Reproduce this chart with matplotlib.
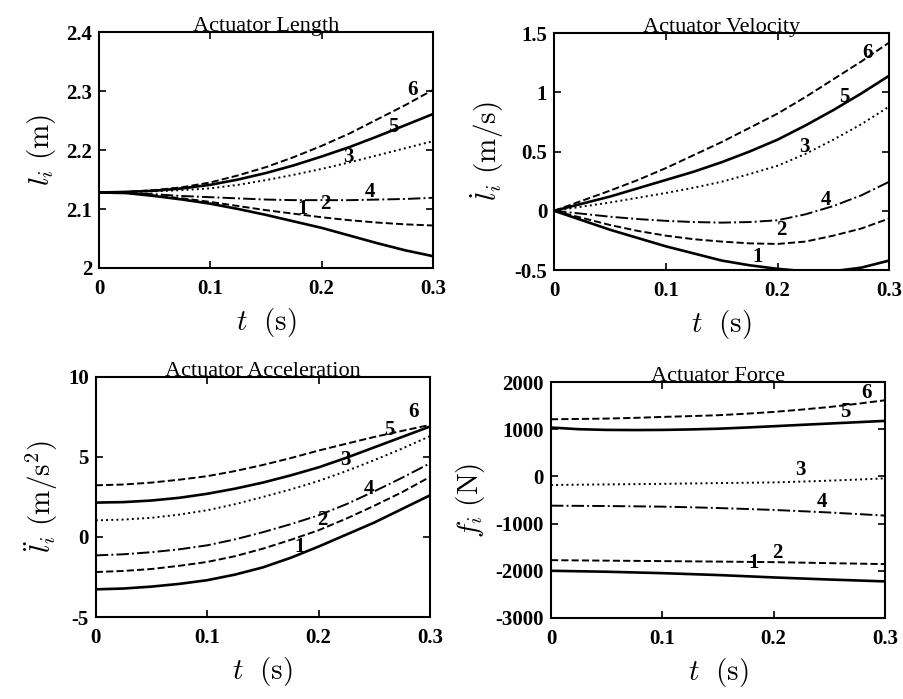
import matplotlib
matplotlib.use("Agg")
import matplotlib.pyplot as plt
import numpy as np

plt.rcParams["font.family"] = ["Liberation Serif", "DejaVu Serif"]
plt.rcParams["mathtext.fontset"] = "cm"

t = [0, 0.025, 0.05, 0.075, 0.1, 0.125, 0.15, 0.175, 0.2, 0.225, 0.25, 0.275, 0.3]

# actuator length (m), legs 1..6
length_1 = [2.128, 2.127, 2.122, 2.116, 2.109, 2.100, 2.090, 2.079, 2.068, 2.055, 2.042, 2.030, 2.020]
length_2 = [2.128, 2.127, 2.123, 2.118, 2.112, 2.105, 2.098, 2.092, 2.086, 2.081, 2.077, 2.074, 2.072]
length_3 = [2.128, 2.129, 2.130, 2.132, 2.135, 2.141, 2.149, 2.158, 2.168, 2.179, 2.191, 2.203, 2.215]
length_4 = [2.128, 2.127, 2.125, 2.122, 2.120, 2.118, 2.116, 2.115, 2.115, 2.115, 2.116, 2.117, 2.119]
length_5 = [2.128, 2.129, 2.131, 2.135, 2.141, 2.150, 2.161, 2.174, 2.189, 2.205, 2.223, 2.242, 2.261]
length_6 = [2.128, 2.129, 2.132, 2.137, 2.145, 2.157, 2.171, 2.188, 2.207, 2.228, 2.252, 2.276, 2.302]

# actuator velocity (m/s)
vel_1 = [0, -0.08, -0.16, -0.23, -0.30, -0.36, -0.42, -0.46, -0.49, -0.51, -0.51, -0.48, -0.42]
vel_2 = [0, -0.06, -0.12, -0.17, -0.21, -0.24, -0.26, -0.275, -0.28, -0.26, -0.21, -0.15, -0.065]
vel_3 = [0, 0.035, 0.07, 0.11, 0.15, 0.195, 0.245, 0.31, 0.38, 0.48, 0.60, 0.73, 0.88]
vel_4 = [0, -0.025, -0.05, -0.07, -0.085, -0.095, -0.10, -0.095, -0.08, -0.03, 0.04, 0.13, 0.245]
vel_5 = [0, 0.06, 0.12, 0.19, 0.26, 0.33, 0.41, 0.50, 0.60, 0.72, 0.85, 0.99, 1.14]
vel_6 = [0, 0.085, 0.17, 0.26, 0.36, 0.47, 0.58, 0.70, 0.82, 0.96, 1.11, 1.26, 1.42]

# actuator acceleration (m/s^2)
acc_1 = [-3.27, -3.22, -3.1, -2.93, -2.7, -2.35, -1.9, -1.3, -0.6, 0.15, 0.9, 1.75, 2.6]
acc_2 = [-2.19, -2.12, -2.0, -1.8, -1.56, -1.2, -0.73, -0.18, 0.42, 1.15, 1.95, 2.8, 3.75]
acc_3 = [1.04, 1.09, 1.2, 1.4, 1.67, 2.05, 2.5, 2.97, 3.5, 4.12, 4.8, 5.52, 6.3]
acc_4 = [-1.15, -1.08, -0.95, -0.77, -0.52, -0.15, 0.3, 0.8, 1.35, 2.05, 2.85, 3.7, 4.6]
acc_5 = [2.15, 2.18, 2.28, 2.45, 2.7, 3.02, 3.4, 3.85, 4.35, 4.95, 5.6, 6.25, 6.9]
acc_6 = [3.23, 3.28, 3.4, 3.58, 3.8, 4.12, 4.5, 4.93, 5.4, 5.83, 6.25, 6.63, 7.0]

# actuator force (N)
force_1 = [-2000, -2010, -2020, -2035, -2050, -2070, -2090, -2115, -2141, -2163, -2185, -2205, -2225]
force_2 = [-1775, -1780, -1785, -1790, -1795, -1800, -1805, -1811, -1817, -1827, -1838, -1848, -1859]
force_3 = [-183, -176, -170, -164, -158, -150, -142, -135, -127, -110, -90, -67, -42]
force_4 = [-620, -624, -628, -634, -641, -654, -670, -690, -711, -737, -765, -797, -831]
force_5 = [1035, 1000, 985, 982, 985, 995, 1010, 1035, 1063, 1092, 1120, 1148, 1176]
force_6 = [1211, 1217, 1225, 1240, 1260, 1277, 1296, 1328, 1366, 1415, 1470, 1538, 1613]

leg_names = ["1", "2", "3", "4", "5", "6"]
styles = ["-", "--", ":", "-.", "-", "--"]

# where the leg numbers sit on each panel (t, value)
length_labels = [(0.183, 2.100), (0.203, 2.109), (0.224, 2.188),
                 (0.243, 2.129), (0.264, 2.239), (0.282, 2.301)]
vel_labels = [(0.182, -0.39), (0.203, -0.16), (0.224, 0.54),
              (0.243, 0.09), (0.260, 0.96), (0.281, 1.33)]
acc_labels = [(0.183, -0.6), (0.203, 1.04), (0.224, 4.8),
              (0.245, 3.0), (0.264, 6.67), (0.285, 7.8)]
force_labels = [(0.182, -1838), (0.203, -1627), (0.224, 134),
                (0.243, -535), (0.264, 1366), (0.283, 1768)]

panels = [
    ("Actuator Length", [length_1, length_2, length_3, length_4, length_5, length_6],
     length_labels, (2, 2.4), [2, 2.1, 2.2, 2.3, 2.4], ["2", "2.1", "2.2", "2.3", "2.4"],
     r"$l_i\ \mathrm{(m)}$", [0.1095, 0.6166, 0.3695, 0.3376]),
    ("Actuator Velocity", [vel_1, vel_2, vel_3, vel_4, vel_5, vel_6],
     vel_labels, (-0.5, 1.5), [-0.5, 0, 0.5, 1, 1.5], ["-0.5", "0", "0.5", "1", "1.5"],
     r"$\dot{l}_i\ \mathrm{(m/s)}$", [0.613, 0.6137, 0.3706, 0.339]),
    ("Actuator Acceleration", [acc_1, acc_2, acc_3, acc_4, acc_5, acc_6],
     acc_labels, (-5, 10), [-5, 0, 5, 10], ["-5", "0", "5", "10"],
     r"$\ddot{l}_i\ \mathrm{(m/s^2)}$", [0.106, 0.1173, 0.3695, 0.3434]),
    ("Actuator Force", [force_1, force_2, force_3, force_4, force_5, force_6],
     force_labels, (-3000, 2000), [-3000, -2000, -1000, 0, 1000, 2000],
     ["-3000", "-2000", "-1000", "0", "1000", "2000"],
     r"$f_i\ \mathrm{(N)}$", [0.6095, 0.1159, 0.3695, 0.3376]),
]

fig = plt.figure(figsize=(9.04, 6.99), dpi=100)

for title, series, labels, ylim, yticks, yticklabels, ylabel, rect in panels:
    ax = fig.add_axes(rect)
    for values, style, name, pos in zip(series, styles, leg_names, labels):
        lw = 1.9 if style == "-" else 1.4
        ax.plot(t, values, linestyle=style, color="black", linewidth=lw)
        ax.text(pos[0], pos[1], name, fontsize=15, fontweight="bold",
                ha="center", va="center")
    ax.set_xlim(0, 0.3)
    ax.set_ylim(*ylim)
    ax.set_xticks([0, 0.1, 0.2, 0.3])
    ax.set_xticklabels(["0", "0.1", "0.2", "0.3"])
    ax.set_yticks(yticks)
    ax.set_yticklabels(yticklabels)
    ax.tick_params(direction="in", top=True, right=True, length=5, width=1.2,
                   labelsize=15, pad=5)
    ax.tick_params(axis="x", pad=8)
    for lbl in ax.get_xticklabels() + ax.get_yticklabels():
        lbl.set_fontweight("bold")
    for spine in ax.spines.values():
        spine.set_linewidth(1.5)
    ax.set_title(title, fontsize=16, pad=1)
    ax.set_xlabel(r"$t\ \ \mathrm{(s)}$", fontsize=21, labelpad=5)
    ax.set_ylabel(ylabel, fontsize=21, labelpad=6)

fig.savefig("out.png", dpi=100)
